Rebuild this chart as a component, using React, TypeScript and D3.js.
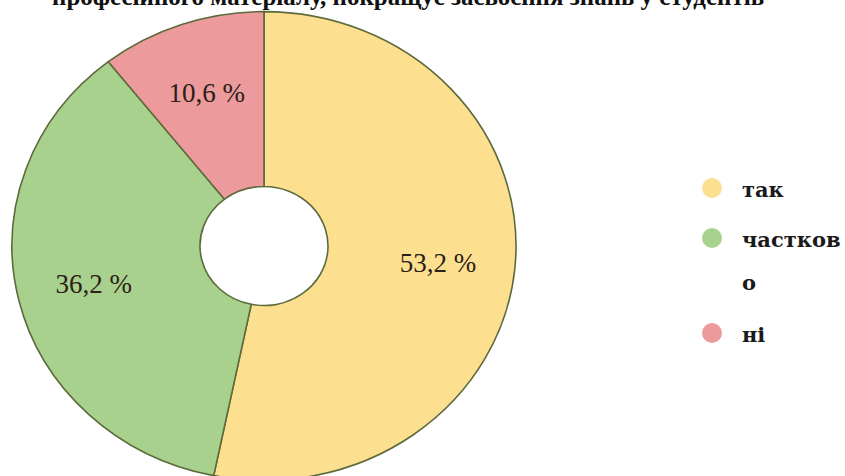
import React from 'react';
import * as d3 from 'd3';

const categories = ['так', 'частково', 'ні'];
const values = [53.2, 36.2, 10.6];
const labels = ['53,2 %', '36,2 %', '10,6 %'];
const colors = ['#FDE08F', '#A9D18E', '#EC9A9B'];
const legendLines = [['так'], ['частков', 'о'], ['ні']];
const title = 'професійного матеріалу, покращує засвоєння знань у студентів';

const W = 845;
const H = 476;
const SERIF = "'Liberation Serif', 'DejaVu Serif', serif";
const CYR = "'DejaVu Serif', serif";

export default function App() {
  const cx = 264;
  const cy = 246;
  const rOuter = 252;
  const rInner = 64;
  const squash = 0.93;

  const pie = d3.pie<number>().sort(null).value(d => d);
  const arcs = pie(values);
  const arc = d3.arc<d3.PieArcDatum<number>>().innerRadius(rInner).outerRadius(rOuter);
  const labelArc = d3.arc<d3.PieArcDatum<number>>().innerRadius(175).outerRadius(175);

  // legend rows
  const legendY = [188, 238, 333];

  return (
    <svg width={W} height={H} style={{ position: 'fixed', left: 0, top: 0, background: '#fff' }}>
      {/* title is cut off at the top in the source image */}
      <text x={52} y={5} fontFamily={SERIF} fontSize={25} fontWeight="bold" fill="#111">{title}</text>

      <g transform={`translate(${cx},${cy}) scale(1,${squash})`}>
        {arcs.map((a, i) => (
          <path key={categories[i]} d={arc(a) || ''} fill={colors[i]}
            stroke="#5d6a3c" strokeWidth={1.6} vectorEffect="non-scaling-stroke" />
        ))}
      </g>

      {arcs.map((a, i) => {
        const [lx, ly] = labelArc.centroid(a);
        return (
          <text key={labels[i]} x={cx + lx} y={cy + ly * squash} dy="0.35em" textAnchor="middle"
            fontFamily={SERIF} fontSize={27} fill="#2a2118">{labels[i]}</text>
        );
      })}

      {legendLines.map((lines, i) => (
        <g key={categories[i]}>
          <circle cx={712} cy={legendY[i]} r={10} fill={colors[i]} />
          {lines.map((t, j) => (
            <text key={t} x={742} y={legendY[i] + 9 + j * 43} fontFamily={CYR} fontSize={21}
              fontWeight="bold" fill="#1a1a1a">{t}</text>
          ))}
        </g>
      ))}
    </svg>
  );
}
